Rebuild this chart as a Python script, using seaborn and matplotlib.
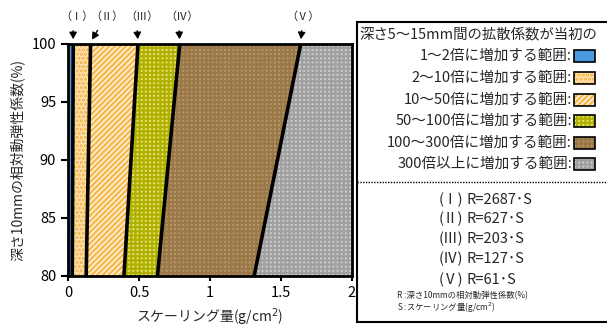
import matplotlib
matplotlib.use("Agg")
import matplotlib.pyplot as plt
import seaborn as sns
import pandas as pd
from matplotlib.patches import Rectangle, FancyArrowPatch
from matplotlib.lines import Line2D

# ---- data ----
line_names = ["Ⅰ", "Ⅱ", "Ⅲ", "Ⅳ", "Ⅴ"]
coefficients = [2687, 627, 203, 127, 61]
r_levels = [80, 100]
s_at_r80 = [0.030, 0.128, 0.394, 0.630, 1.311]
s_at_r100 = [0.037, 0.159, 0.493, 0.787, 1.639]
x_ticks = [0, 0.5, 1, 1.5, 2]
x_tick_labels = ["0", "0.5", "1", "1.5", "2"]
y_ticks = [80, 85, 90, 95, 100]
region_labels = ["1〜2倍に増加する範囲:", "2〜10倍に増加する範囲:", "10〜50倍に増加する範囲:",
                 "50〜100倍に増加する範囲:", "100〜300倍に増加する範囲:", "300倍以上に増加する範囲:"]

sns.set_theme(style="white")
plt.rcParams['font.family'] = ['Noto Sans CJK JP', 'DejaVu Sans']
plt.rcParams['hatch.linewidth'] = 1.6
plt.rcParams['axes.unicode_minus'] = False

fig = plt.figure(figsize=(6.07, 3.27), dpi=100)
ax = fig.add_axes([68/607, 1-276/327, (352-68)/607, (276-44)/327])

# region styles: (facecolor, hatchcolor, hatch)
styles = [
    ("#4a9be0", "#4a9be0", None),
    ("#fde2b0", "#f5b040", "...."),
    ("#fff0d8", "#f7b84a", "//////"),
    ("#e6e680", "#b0b000", "++++"),
    ("#b8976a", "#9a7848", "++++"),
    ("#d0d0d0", "#a0a0a0", "++++"),
]

bounds_80 = [0.0] + s_at_r80 + [2.0]
bounds_100 = [0.0] + s_at_r100 + [2.0]
for i, (fc, hc, h) in enumerate(styles):
    left = [bounds_80[i], bounds_100[i]]
    right = [bounds_80[i+1], bounds_100[i+1]]
    ax.fill_betweenx(r_levels, left, right, facecolor=fc, edgecolor=hc,
                     hatch=h, linewidth=0, zorder=1)

rows = []
for name, s0, s1 in zip(line_names, s_at_r80, s_at_r100):
    rows.append({"line": name, "S": s0, "R": r_levels[0]})
    rows.append({"line": name, "S": s1, "R": r_levels[1]})
df = pd.DataFrame(rows)
sns.lineplot(data=df, x="S", y="R", hue="line", units="line", estimator=None,
             sort=False, palette=["black"] * 5, linewidth=2.6, legend=False,
             ax=ax, zorder=3)

ax.set_xlim(0, 2)
ax.set_ylim(80, 100)
ax.set_xticks(x_ticks)
ax.set_xticklabels(x_tick_labels)
ax.set_yticks(y_ticks)
for sp in ax.spines.values():
    sp.set_linewidth(2)
    sp.set_color("black")
    sp.set_zorder(4)
ax.tick_params(axis="x", direction="inout", length=7, width=1.5, labelsize=10.5,
               colors="black", pad=4, bottom=True)
ax.tick_params(axis="y", direction="out", length=5, width=1.5, labelsize=10.5,
               colors="black", left=True)
ax.set_xlabel("スケーリング量(g/cm$^2$)", fontsize=10, labelpad=4)
ax.set_ylabel("深さ10mmの相対動弾性係数(%)", fontsize=10, labelpad=5)

# labels and arrows above the plot
label_x = [77, 107, 142, 182, 303]
arrow_start = [(73, 28), (99, 28), (137, 28), (179, 28), (302, 28)]
for name, lx, (ax0, ay0), s1 in zip(line_names, label_x, arrow_start, s_at_r100):
    fig.text(lx/607, 1-17/327, "（" + name + "）", ha="center", va="center",
             fontsize=8)
    tx, ty = ax.transData.transform((s1, 100))
    fx, fy = fig.transFigure.inverted().transform((tx, ty + 2))
    fig.add_artist(FancyArrowPatch(
        (ax0/607, 1-ay0/327), (fx, fy), transform=fig.transFigure,
        arrowstyle="-|>,head_length=4,head_width=2.2", color="black",
        linewidth=1.0, mutation_scale=1))

# legend panel
fig.add_artist(Rectangle((357/607, 1-322/327), 0.5, (322-22)/327,
                         transform=fig.transFigure, facecolor="white",
                         edgecolor="black", linewidth=1.5, zorder=0))
fig.text(359/607, 1-35/327, "深さ5〜15mm間の拡散係数が当初の", ha="left",
         va="center", fontsize=10.4)
row_y = [56, 78, 100, 121, 143, 164]
for lab, yy, (fc, hc, h) in zip(region_labels, row_y, styles):
    fig.text(572/607, 1-yy/327, lab, ha="right", va="center", fontsize=10.5)
    box = ((574/607, 1-(yy+6)/327), 21/607, 12/327)
    fig.add_artist(Rectangle(*box, transform=fig.transFigure, facecolor=fc,
                             edgecolor=hc, hatch=h, linewidth=0))
    fig.add_artist(Rectangle(*box, transform=fig.transFigure, facecolor="none",
                             edgecolor="black", linewidth=1.2))

fig.add_artist(Line2D([357/607, 1.0], [1-182/327, 1-182/327],
                      transform=fig.transFigure, color="black",
                      linewidth=1.0, linestyle=(0, (1, 1))))

formula_y = [200, 219, 239, 259, 280]
for name, k, yy in zip(line_names, coefficients, formula_y):
    fig.text(451/607, 1-yy/327, "(" + name + ")", ha="center", va="center",
             fontsize=10.5)
    fig.text(466/607, 1-yy/327, f"R={k}･S", ha="left", va="center",
             fontsize=10.5)

fig.text(397/607, 1-296/327, "R :深さ10mmの相対動弾性係数(%)", ha="left",
         va="center", fontsize=6)
fig.text(397/607, 1-308/327, "S :スケーリング量(g/cm$^2$)", ha="left",
         va="center", fontsize=6)

fig.savefig("out.png", dpi=100)
